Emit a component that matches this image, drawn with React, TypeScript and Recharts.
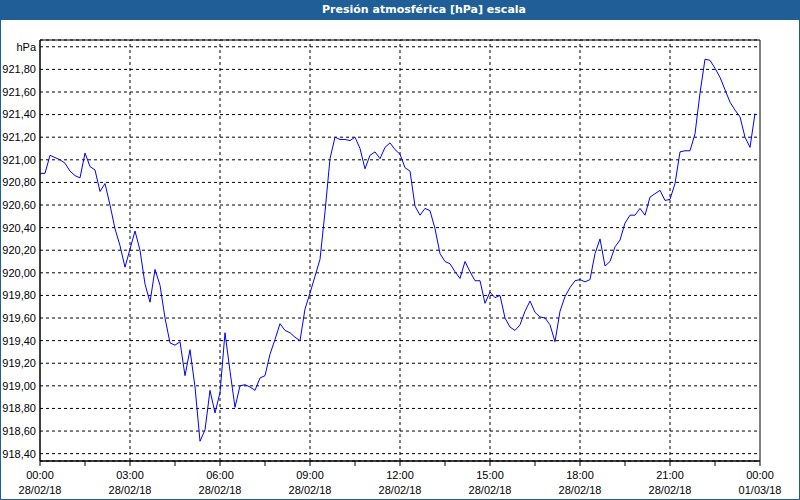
import React from "react";
import { LineChart, Line, XAxis, YAxis, CartesianGrid, ReferenceLine, ReferenceArea } from "recharts";

// one reading every 10 minutes, 00:00 -> 23:50 (28/02/18)
const pressure = [
  920.88, 920.88, 921.04, 921.02, 921.0, 920.97, 920.9, 920.86, 920.84, 921.06, 920.94, 920.91,
  920.72, 920.79, 920.6, 920.39, 920.24, 920.05, 920.21, 920.37, 920.2, 919.9, 919.74, 920.03,
  919.89, 919.6, 919.38, 919.36, 919.39, 919.09, 919.32, 918.99, 918.51, 918.61, 918.96, 918.76,
  918.94, 919.47, 919.13, 918.81, 919.0, 919.01, 918.99, 918.96, 919.07, 919.09, 919.28, 919.41,
  919.55, 919.49, 919.47, 919.43, 919.4, 919.68, 919.82, 919.97, 920.12, 920.54, 921.01, 921.2,
  921.18, 921.18, 921.17, 921.2, 921.1, 920.92, 921.04, 921.07, 921.01, 921.11, 921.15, 921.09,
  921.05, 920.93, 920.9, 920.59, 920.51, 920.57, 920.55, 920.39, 920.17, 920.1, 920.08, 920.01,
  919.95, 920.1, 920.01, 919.93, 919.93, 919.73, 919.83, 919.78, 919.8, 919.6, 919.52, 919.49,
  919.54, 919.66, 919.75, 919.65, 919.61, 919.6, 919.54, 919.39, 919.66, 919.79, 919.87, 919.93,
  919.94, 919.92, 919.94, 920.17, 920.3, 920.06, 920.1, 920.23, 920.29, 920.44, 920.51, 920.51,
  920.57, 920.51, 920.67, 920.7, 920.73, 920.64, 920.65, 920.79, 921.07, 921.08, 921.08, 921.23,
  921.59, 921.89, 921.88, 921.81, 921.73, 921.62, 921.51, 921.44, 921.38, 921.2, 921.11, 921.41,
];

const xTicks = [0, 90, 180, 270, 360, 450, 540, 630, 720, 810, 900, 990, 1080, 1170, 1260, 1350, 1440];
const xTimeLabels = ["00:00", "03:00", "06:00", "09:00", "12:00", "15:00", "18:00", "21:00", "00:00"];
const xDateLabels = ["28/02/18", "28/02/18", "28/02/18", "28/02/18", "28/02/18", "28/02/18", "28/02/18", "28/02/18", "01/03/18"];
const vGrid = [180, 360, 540, 720, 900, 1080, 1260];

const yTicks = [
  918.4, 918.6, 918.8, 919.0, 919.2, 919.4, 919.6, 919.8, 920.0, 920.2,
  920.4, 920.6, 920.8, 921.0, 921.2, 921.4, 921.6, 921.8, 922.0,
];
const yMin = 918.335;
const yMax = 922.06;

const data = pressure.map((p, i) => ({ t: i * 10, p }));

const FONT = "'Liberation Sans', Arial, sans-serif";
const BLUE = "#1f5e96";

function TimeTick(props: any) {
  const { x, y, payload } = props;
  if (payload.value % 180 !== 0) return null;
  const i = payload.value / 180;
  return (
    <g transform={`translate(${x},${y})`}>
      <text textAnchor="middle" fontFamily={FONT} fontSize={11} fill="#000" y={11}>
        {xTimeLabels[i]}
      </text>
      <text textAnchor="middle" fontFamily={FONT} fontSize={11} fill="#000" y={26}>
        {xDateLabels[i]}
      </text>
    </g>
  );
}

const fmtY = (v: number) => (Math.abs(v - 922) < 0.001 ? "hPa" : v.toFixed(2).replace(".", ","));

export default function App() {
  return (
    <div
      style={{
        position: "absolute",
        left: 0,
        top: 0,
        width: 800,
        height: 500,
        background: "#fff",
        boxSizing: "border-box",
        border: `1px solid ${BLUE}`,
        overflow: "hidden",
      }}
    >
      <div style={{ position: "absolute", left: -1, top: -1 }}>
        <LineChart width={800} height={500} data={data} margin={{ top: 40, right: 40, bottom: 0, left: 0 }}>
          <CartesianGrid vertical={false} stroke="#000" strokeDasharray="3 3" />
          {vGrid.map((t) => (
            <ReferenceLine key={t} x={t} stroke="#000" strokeDasharray="3 3" />
          ))}
          <ReferenceArea x1={0} x2={1440} y1={yMin} y2={yMax} stroke="#000" fill="none" ifOverflow="visible" />
          <XAxis
            dataKey="t"
            type="number"
            domain={[0, 1440]}
            ticks={xTicks}
            height={39}
            tickSize={5}
            tickMargin={2}
            interval={0}
            stroke="#000"
            tick={<TimeTick />}
          />
          <YAxis
            type="number"
            domain={[yMin, yMax]}
            ticks={yTicks}
            width={40}
            interval={0}
            tickLine={false}
            tickSize={4}
            tickMargin={0}
            stroke="#000"
            tickFormatter={fmtY}
            tick={{ fill: "#000", fontSize: 11, fontFamily: FONT }}
          />
          <Line
            type="linear"
            dataKey="p"
            stroke="#0000ff"
            strokeWidth={1}
            dot={false}
            isAnimationActive={false}
          />
        </LineChart>
      </div>
      <div
        style={{
          position: "absolute",
          left: -1,
          top: -1,
          width: 800,
          height: 20,
          boxSizing: "border-box",
          paddingLeft: 48,
          background: BLUE,
          color: "#fff",
          fontFamily: "Tahoma, 'DejaVu Sans', sans-serif",
          fontWeight: "bold",
          fontSize: 11,
          lineHeight: "20px",
          textAlign: "center",
        }}
      >
        Presión atmosférica [hPa] escala
      </div>
    </div>
  );
}
